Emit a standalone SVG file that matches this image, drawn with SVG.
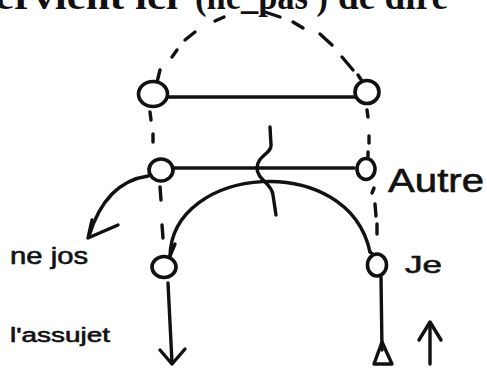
<svg xmlns="http://www.w3.org/2000/svg" width="487" height="368" viewBox="0 0 487 368">
<style>
.ln{fill:none;stroke:#111;stroke-width:3.4;stroke-linecap:round;stroke-linejoin:round}
.nd{fill:#fff;stroke:#111;stroke-width:3.6}
.hw{font-family:"Liberation Sans","DejaVu Sans",sans-serif;fill:#111;stroke:#111;stroke-width:0.6}
.tp{font-family:"Liberation Serif","DejaVu Serif",serif;font-weight:bold;font-size:38px;fill:#111}
</style>
<rect width="487" height="368" fill="#fff"/>
<g id="top-text">
<text class="tp" x="-5" y="9" textLength="183" lengthAdjust="spacingAndGlyphs">ervient ici</text>
<text class="tp" x="195" y="9" textLength="133" lengthAdjust="spacingAndGlyphs">(ne_pas )</text>
<text class="tp" x="338" y="9" textLength="110" lengthAdjust="spacingAndGlyphs">de dire</text>
</g>
<g id="connectors">
<path class="ln" d="M157,82 L160,70"/>
<path class="ln" d="M172,57 L177,50"/>
<path class="ln" d="M185,40 L195,32"/>
<path class="ln" d="M215,21 L224,17"/>
<path class="ln" d="M265,12 L280,17"/>
<path class="ln" d="M293,22 L303,28"/>
<path class="ln" d="M320,34 L332,45"/>
<path class="ln" d="M342,57 L353,70"/>
<path class="ln" d="M358,75 L362,81"/>
<path class="ln" d="M168,97 L355,97"/>
<path class="ln" d="M174,168 L354,168"/>
<path class="ln" d="M150,112 L151,120"/>
<path class="ln" d="M153,134 L153,142"/>
<path class="ln" d="M160,187 L161,200"/>
<path class="ln" d="M162,225 L163,238"/>
<path class="ln" d="M367,110 L368,117"/>
<path class="ln" d="M369,136 L369,143"/>
<path class="ln" d="M368,152 L368,157"/>
<path class="ln" d="M374,188 L372,193"/>
<path class="ln" d="M375,204 L376,216"/>
<path class="ln" d="M377,224 L377,234"/>
<path class="ln" d="M170,256 C172,165 348,150 370,252"/>
<path class="ln" d="M170,256 L175,244"/>
<path class="ln" d="M370,252 L374,255"/>
<path class="ln" d="M270,127 L271,145 C272,153 257,156 257,168 C257,180 272,183 273,195 L276,215"/>
<path class="ln" d="M148,176 C120,180 100,200 89,236"/>
<path class="ln" d="M92,220 L88,238 L118,225"/>
<path class="ln" d="M168,283 L172,363"/>
<path class="ln" d="M160,350 L172,364 L185,349"/>
<path class="ln" d="M381,277 L382,350"/>
<path class="ln" d="M382,342 L374,364 L392,364 Z"/>
<path class="ln" d="M430,364 L430,324"/>
<path class="ln" d="M419,340 L430,322 L441,340"/>
</g>
<g id="n-top-left"><ellipse class="nd" cx="153" cy="94" rx="14.5" ry="12.5"/></g>
<g id="n-top-right"><ellipse class="nd" cx="367" cy="92" rx="12" ry="11.5"/></g>
<g id="n-mid-left"><ellipse class="nd" cx="161" cy="170" rx="12" ry="11"/></g>
<g id="n-mid-right"><ellipse class="nd" cx="366" cy="169" rx="9" ry="10.5"/></g>
<g id="n-bot-left"><ellipse class="nd" cx="164" cy="267" rx="12" ry="10.5"/></g>
<g id="n-bot-right"><ellipse class="nd" cx="377" cy="265" rx="9.5" ry="11"/></g>
<g id="labels">
<text class="hw" x="388" y="192" font-size="34" textLength="96" lengthAdjust="spacingAndGlyphs">Autre</text>
<text class="hw" x="405" y="273" font-size="24" textLength="37" lengthAdjust="spacingAndGlyphs">Je</text>
<text class="hw" x="10" y="264" font-size="24" textLength="78" lengthAdjust="spacingAndGlyphs">ne jos</text>
<text class="hw" x="10" y="342" font-size="20" textLength="100" lengthAdjust="spacingAndGlyphs">l'assujet</text>
</g>
</svg>
